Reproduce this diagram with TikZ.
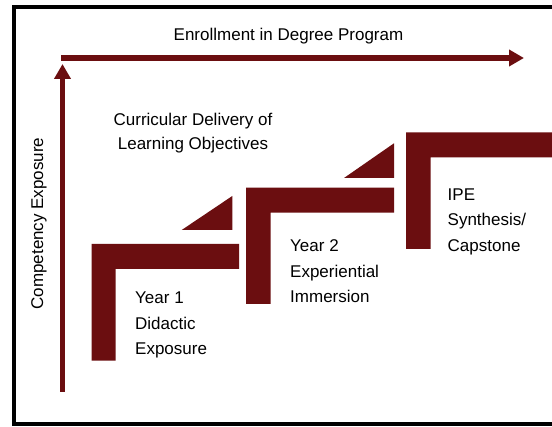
\documentclass[tikz,border=0pt]{standalone}
\usepackage{fontspec}
\setmainfont{Liberation Sans}
\usetikzlibrary{arrows.meta}
\definecolor{maroon}{RGB}{107,14,16}
\tikzset{
  axis/.style={draw=maroon, line width=5.5pt, -{Triangle[length=15pt,width=16pt]}},
  stepshape/.style={fill=maroon, draw=none},
  lbl/.style={inner sep=0pt, font=\fontsize{17}{25.5}\selectfont, text=black},
  frame/.style={draw=black, line width=4.5pt}
}
\begin{document}
\begin{tikzpicture}[x=1pt, y=-1pt]
\useasboundingbox (0,0) rectangle (552,427);
\clip (0,0) rectangle (552,427);
\fill[white] (0,0) rectangle (552,427);
\draw[frame] (14,7) rectangle (600,424);

% axes
\coordinate (xo) at (61,58);
\coordinate (xe) at (524,58);
\coordinate (yo) at (62.5,392);
\coordinate (ye) at (62.5,64);
\draw[axis] (xo) -- (xe);
\draw[axis] (yo) -- (ye);

% steps
\path[stepshape] (91.7,244) -- (239,244) -- (239,269) -- (115.7,269) -- (115.7,360.7) -- (91.7,360.7) -- cycle;
\path[stepshape] (246,187.7) -- (394,187.7) -- (394,212.7) -- (270.7,212.7) -- (270.7,304) -- (246,304) -- cycle;
\path[stepshape] (406,132.3) -- (600,132.3) -- (600,157.3) -- (430.7,157.3) -- (430.7,249) -- (406,249) -- cycle;
\path[stepshape] (181.7,230) -- (232.3,196) -- (232.3,230) -- cycle;
\path[stepshape] (344,178) -- (394,143.3) -- (394,178) -- cycle;

% labels
\node[lbl, anchor=north] (enroll) at (288.5,28) {Enrollment in Degree Program};
\node[lbl, anchor=north, align=center, font=\fontsize{17}{24}\selectfont] (curr) at (193,113) {Curricular Delivery of\\Learning Objectives};
\node[lbl, rotate=90] (comp) at (39,223.5) {Competency Exposure};
\node[lbl, anchor=north west, align=left] (y1) at (135,292) {Year 1\\Didactic\\Exposure};
\node[lbl, anchor=north west, align=left] (y2) at (290,239.5) {Year 2\\Experiential\\Immersion};
\node[lbl, anchor=north west, align=left] (ipe) at (447.5,188.5) {IPE\\Synthesis/\\Capstone};
\end{tikzpicture}
\end{document}
